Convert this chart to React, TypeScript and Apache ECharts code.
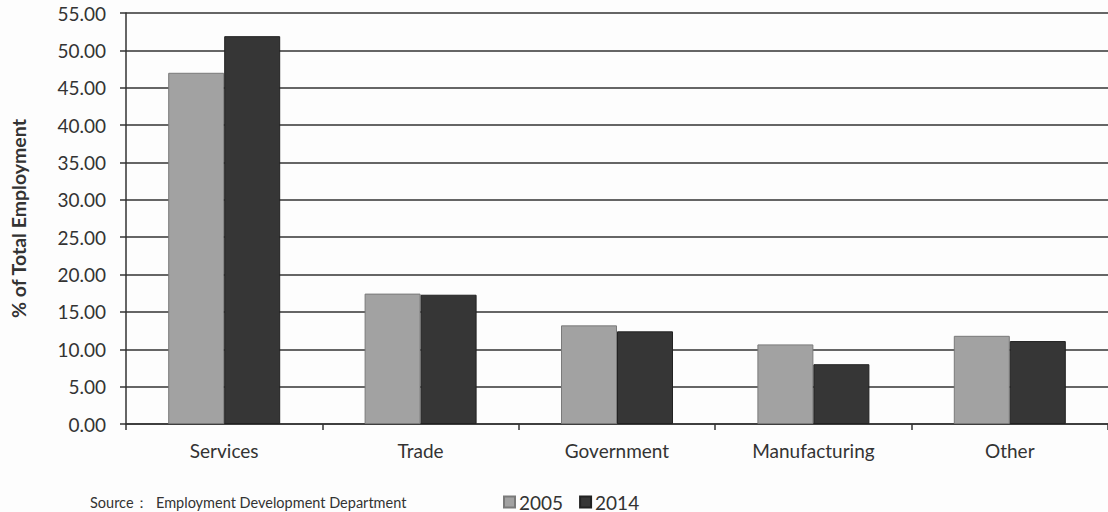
import React, { useEffect, useRef } from "react";
import * as echarts from "echarts";

const categories = ["Services", "Trade", "Government", "Manufacturing", "Other"];
const values2005 = [47.0, 17.45, 13.2, 10.65, 11.8];
const values2014 = [51.9, 17.3, 12.4, 8.0, 11.1];
const seriesNames = ["2005", "2014"];
const yTicks = { min: 0, max: 55, interval: 5 };
const sourceText = "Source：  Employment Development Department";
const yAxisTitle = "% of Total Employment";

const FONT = "Lato, 'Open Sans', sans-serif";

export default function App() {
  const ref = useRef<HTMLDivElement>(null);
  useEffect(() => {
    document.body.style.margin = "0";
    const chart = echarts.init(ref.current!, null, { renderer: "svg" });
    chart.setOption({
      animation: false,
      backgroundColor: "#fdfdfd",
      textStyle: { fontFamily: FONT },
      grid: { left: 122, right: -10, top: 13, bottom: 88 },
      legend: {
        data: seriesNames,
        left: 503,
        top: 492,
        padding: 0,
        icon: "rect",
        itemWidth: 11,
        itemHeight: 11,
        itemGap: 16,
        textStyle: { fontSize: 19, lineHeight: 20, color: "#333", fontFamily: FONT, padding: [0, 0, 0, -1] },
      },
      graphic: [
        {
          type: "text",
          left: 90,
          top: 495,
          style: { text: sourceText, fontSize: 14.5, fill: "#333", fontFamily: FONT },
        },
      ],
      xAxis: {
        type: "category",
        data: categories,
        axisLine: { lineStyle: { color: "#333", width: 1.5 } },
        axisTick: { show: true, length: 6, lineStyle: { color: "#333", width: 1.5 } },
        axisLabel: { fontSize: 19, color: "#333", margin: 17, fontFamily: FONT },
      },
      yAxis: {
        type: "value",
        min: yTicks.min,
        max: yTicks.max,
        interval: yTicks.interval,
        name: yAxisTitle,
        nameLocation: "middle",
        nameGap: 98,
        nameRotate: 90,
        nameTextStyle: { fontSize: 19.5, fontWeight: "bold", color: "#333", fontFamily: FONT },
        axisLine: { show: true, lineStyle: { color: "#333", width: 1.5 } },
        axisTick: { show: true, length: 6, lineStyle: { color: "#333", width: 1.5 } },
        axisLabel: {
          fontSize: 19,
          color: "#333",
          margin: 20,
          fontFamily: FONT,
          formatter: (v: number) => v.toFixed(2),
        },
        splitLine: { show: true, lineStyle: { color: "#333", width: 1.5 } },
      },
      series: [
        {
          name: seriesNames[0],
          type: "bar",
          data: values2005,
          barWidth: 56,
          barGap: "0%",
          itemStyle: { color: "#a2a2a2", borderColor: "#7a7a7a", borderWidth: 1 },
        },
        {
          name: seriesNames[1],
          type: "bar",
          data: values2014,
          barWidth: 56,
          barGap: "0%",
          itemStyle: { color: "#363636", borderColor: "#222", borderWidth: 1 },
        },
      ],
    });
    return () => chart.dispose();
  }, []);
  return <div ref={ref} style={{ width: 1108, height: 512 }} />;
}
